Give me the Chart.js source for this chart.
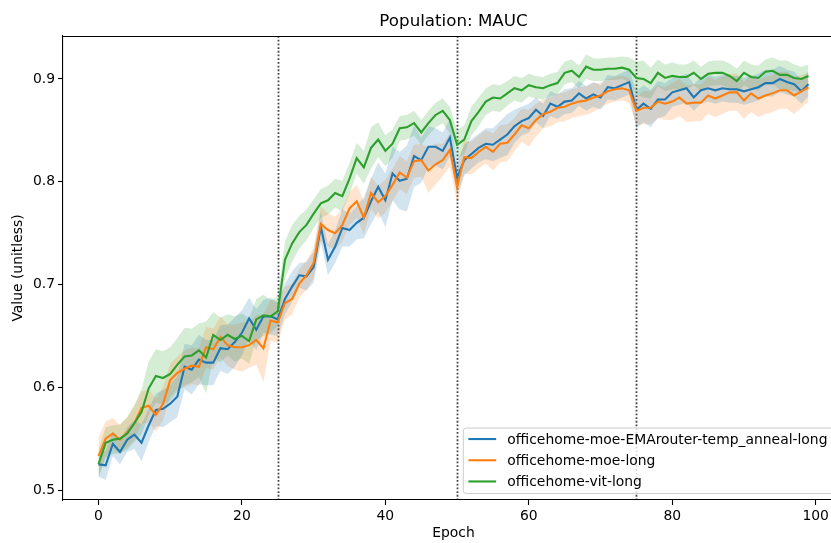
<!DOCTYPE html>
<html>
<head>
<meta charset="utf-8">
<title>Population: MAUC</title>
<script src="https://cdn.jsdelivr.net/npm/chart.js@4.4.1/dist/chart.umd.min.js"></script>
<style>
  html, body { margin: 0; padding: 0; background: #fff; overflow: hidden; }
  #wrap { width: 860px; height: 543px; }
</style>
</head>
<body>
<div id="wrap"><canvas id="mauc" width="860" height="543"></canvas></div>
<script>
// mean MAUC per epoch for each run
var blueMean = [
  0.525, 0.524, 0.545, 0.537, 0.549, 0.554, 0.546, 0.563, 0.578, 0.579,
  0.584, 0.591, 0.620, 0.617, 0.627, 0.624, 0.624, 0.638, 0.637, 0.644,
  0.653, 0.667, 0.656, 0.669, 0.669, 0.666, 0.686, 0.698, 0.709, 0.708,
  0.717, 0.756, 0.724, 0.737, 0.755, 0.753, 0.760, 0.765, 0.781, 0.795,
  0.782, 0.808, 0.801, 0.803, 0.825, 0.821, 0.834, 0.834, 0.830, 0.843,
  0.804, 0.821, 0.827, 0.833, 0.837, 0.836, 0.841, 0.846, 0.854, 0.859,
  0.862, 0.870, 0.864, 0.876, 0.873, 0.878, 0.879, 0.886, 0.881, 0.885,
  0.882, 0.892, 0.891, 0.894, 0.897, 0.870, 0.876, 0.871, 0.880, 0.880,
  0.887, 0.889, 0.891, 0.882, 0.889, 0.891, 0.889, 0.891, 0.890, 0.890,
  0.888, 0.890, 0.892, 0.896, 0.896, 0.900, 0.897, 0.895, 0.888, 0.895
];
var orangeMean = [
  0.533, 0.550, 0.555, 0.549, 0.556, 0.565, 0.580, 0.582, 0.573, 0.584,
  0.607, 0.614, 0.618, 0.621, 0.620, 0.639, 0.637, 0.649, 0.641, 0.639,
  0.639, 0.641, 0.646, 0.638, 0.665, 0.663, 0.682, 0.686, 0.701, 0.709,
  0.721, 0.759, 0.753, 0.750, 0.758, 0.774, 0.781, 0.765, 0.789, 0.780,
  0.786, 0.797, 0.809, 0.804, 0.820, 0.821, 0.811, 0.817, 0.821, 0.831,
  0.795, 0.824, 0.823, 0.829, 0.834, 0.829, 0.837, 0.838, 0.846, 0.855,
  0.852, 0.860, 0.866, 0.868, 0.872, 0.873, 0.876, 0.878, 0.879, 0.882,
  0.884, 0.888, 0.890, 0.891, 0.889, 0.869, 0.872, 0.872, 0.878, 0.876,
  0.878, 0.882, 0.876, 0.877, 0.877, 0.884, 0.881, 0.884, 0.887, 0.887,
  0.879, 0.886, 0.881, 0.884, 0.886, 0.889, 0.889, 0.884, 0.888, 0.892
];
var greenMean = [
  0.525, 0.546, 0.549, 0.550, 0.555, 0.565, 0.576, 0.599, 0.611, 0.609,
  0.613, 0.622, 0.630, 0.631, 0.636, 0.629, 0.651, 0.646, 0.651, 0.647,
  0.650, 0.645, 0.666, 0.670, 0.669, 0.674, 0.724, 0.740, 0.751, 0.758,
  0.769, 0.779, 0.782, 0.789, 0.786, 0.803, 0.823, 0.814, 0.833, 0.841,
  0.830, 0.837, 0.852, 0.853, 0.857, 0.848, 0.857, 0.865, 0.869, 0.860,
  0.836, 0.841, 0.859, 0.868, 0.878, 0.882, 0.881, 0.886, 0.891, 0.889,
  0.894, 0.892, 0.891, 0.894, 0.896, 0.906, 0.908, 0.902, 0.912, 0.909,
  0.909, 0.910, 0.910, 0.911, 0.909, 0.901, 0.900, 0.896, 0.906, 0.901,
  0.903, 0.902, 0.902, 0.906, 0.900, 0.905, 0.906, 0.906, 0.903, 0.898,
  0.906, 0.902, 0.901, 0.907, 0.908, 0.904, 0.904, 0.901, 0.900, 0.903
];

// half-width of the shaded band around each mean
var blueSpread = [
  0.012, 0.014, 0.012, 0.012, 0.012, 0.014, 0.018, 0.016, 0.016, 0.018,
  0.018, 0.020, 0.022, 0.024, 0.024, 0.022, 0.022, 0.022, 0.024, 0.024,
  0.022, 0.020, 0.020, 0.016, 0.018, 0.016, 0.015, 0.015, 0.012, 0.014,
  0.015, 0.015, 0.015, 0.016, 0.018, 0.016, 0.016, 0.020, 0.022, 0.024,
  0.026, 0.026, 0.028, 0.032, 0.030, 0.022, 0.020, 0.018, 0.018, 0.018,
  0.016, 0.015, 0.014, 0.014, 0.015, 0.016, 0.018, 0.020, 0.016, 0.014,
  0.014, 0.012, 0.012, 0.012, 0.012, 0.012, 0.012, 0.012, 0.012, 0.012,
  0.012, 0.012, 0.012, 0.012, 0.012, 0.018, 0.018, 0.018, 0.018, 0.016,
  0.014, 0.014, 0.014, 0.013, 0.013, 0.013, 0.013, 0.013, 0.013, 0.013,
  0.013, 0.013, 0.013, 0.013, 0.013, 0.013, 0.012, 0.012, 0.012, 0.012
];
var orangeSpread = [
  0.018, 0.017, 0.015, 0.014, 0.014, 0.016, 0.016, 0.016, 0.016, 0.016,
  0.016, 0.016, 0.018, 0.018, 0.018, 0.020, 0.020, 0.020, 0.020, 0.022,
  0.024, 0.022, 0.024, 0.033, 0.020, 0.020, 0.016, 0.015, 0.014, 0.014,
  0.015, 0.017, 0.016, 0.016, 0.016, 0.016, 0.016, 0.016, 0.016, 0.016,
  0.016, 0.016, 0.016, 0.016, 0.016, 0.016, 0.022, 0.020, 0.016, 0.016,
  0.016, 0.016, 0.016, 0.016, 0.016, 0.018, 0.018, 0.018, 0.016, 0.016,
  0.018, 0.016, 0.014, 0.014, 0.014, 0.014, 0.014, 0.014, 0.014, 0.014,
  0.012, 0.012, 0.012, 0.012, 0.012, 0.014, 0.016, 0.016, 0.016, 0.016,
  0.018, 0.018, 0.018, 0.018, 0.018, 0.018, 0.018, 0.018, 0.018, 0.018,
  0.018, 0.018, 0.018, 0.018, 0.018, 0.018, 0.018, 0.018, 0.016, 0.014
];
var greenSpread = [
  0.014, 0.015, 0.014, 0.014, 0.016, 0.018, 0.022, 0.026, 0.026, 0.026,
  0.026, 0.026, 0.028, 0.026, 0.026, 0.035, 0.022, 0.022, 0.020, 0.022,
  0.022, 0.022, 0.020, 0.020, 0.016, 0.014, 0.018, 0.018, 0.016, 0.015,
  0.014, 0.014, 0.014, 0.014, 0.015, 0.015, 0.015, 0.016, 0.020, 0.017,
  0.015, 0.014, 0.012, 0.012, 0.012, 0.012, 0.012, 0.012, 0.012, 0.013,
  0.014, 0.014, 0.014, 0.014, 0.013, 0.013, 0.013, 0.012, 0.012, 0.012,
  0.011, 0.011, 0.011, 0.011, 0.011, 0.011, 0.011, 0.011, 0.012, 0.011,
  0.011, 0.011, 0.011, 0.011, 0.012, 0.016, 0.018, 0.015, 0.013, 0.013,
  0.013, 0.012, 0.012, 0.012, 0.012, 0.012, 0.012, 0.012, 0.012, 0.012,
  0.012, 0.012, 0.012, 0.012, 0.013, 0.014, 0.014, 0.013, 0.012, 0.011
];

var epochs = blueMean.map(function (v, i) { return i; });
var phaseEnds = [25, 50, 75];
var xTicks = [0, 20, 40, 60, 80, 100];
var xTickLabels = ['0', '20', '40', '60', '80', '100'];
var yTicks = [0.5, 0.6, 0.7, 0.8, 0.9];
var yTickLabels = ['0.5', '0.6', '0.7', '0.8', '0.9'];

var series = [
  { label: 'officehome-moe-EMArouter-temp_anneal-long', mean: blueMean, spread: blueSpread,
    color: '#1f77b4', band: 'rgba(31,119,180,0.2)' },
  { label: 'officehome-moe-long', mean: orangeMean, spread: orangeSpread,
    color: '#ff7f0e', band: 'rgba(255,127,14,0.2)' },
  { label: 'officehome-vit-long', mean: greenMean, spread: greenSpread,
    color: '#2ca02c', band: 'rgba(44,160,44,0.2)' }
];

var FONT = "'DejaVu Sans', 'Liberation Sans', sans-serif";
Chart.defaults.font.family = FONT;
Chart.defaults.color = '#000';

function points(values) {
  return values.map(function (v, i) { return { x: epochs[i], y: v }; });
}
function shifted(values, spread, sign) {
  return values.map(function (v, i) { return { x: epochs[i], y: v + sign * spread[i] }; });
}

var datasets = [];
series.forEach(function (s) {
  datasets.push({ data: shifted(s.mean, s.spread, -1), borderWidth: 0, borderColor: 'transparent',
    pointRadius: 0, fill: false, order: 10 });
  datasets.push({ data: shifted(s.mean, s.spread, 1), borderWidth: 0, borderColor: 'transparent',
    pointRadius: 0, fill: '-1', backgroundColor: s.band, order: 10 });
});
series.forEach(function (s, k) {
  datasets.push({ label: s.label, data: points(s.mean), borderColor: s.color, borderWidth: 2.1,
    pointRadius: 0, fill: false, tension: 0, order: 3 - k });
});

// dotted markers at the phase boundaries
var phaseLines = {
  id: 'phaseLines',
  beforeDatasetsDraw: function (chart) {
    var ctx = chart.ctx, area = chart.chartArea, xs = chart.scales.x;
    ctx.save();
    ctx.strokeStyle = 'rgba(0,0,0,0.72)';
    ctx.lineWidth = 1.8;
    ctx.setLineDash([1.8, 1.9]);
    phaseEnds.forEach(function (e) {
      var px = Math.round(xs.getPixelForValue(e)) + 0.5;
      ctx.beginPath();
      ctx.moveTo(px, area.top);
      ctx.lineTo(px, area.bottom);
      ctx.stroke();
    });
    ctx.restore();
  }
};

// top spine and the legend box in the lower right corner
var frameAndLegend = {
  id: 'frameAndLegend',
  afterDraw: function (chart) {
    var ctx = chart.ctx, area = chart.chartArea;
    ctx.save();
    ctx.strokeStyle = '#000';
    ctx.lineWidth = 1.1;
    ctx.beginPath();
    ctx.moveTo(area.left, area.top + 0.5);
    ctx.lineTo(area.right, area.top + 0.5);
    ctx.stroke();

    var fs = 13.9;
    ctx.font = fs + 'px ' + FONT;
    var textW = 0;
    series.forEach(function (s) { textW = Math.max(textW, ctx.measureText(s.label).width); });
    var pad = 0.4 * fs, handle = 2 * fs, gap = 0.8 * fs;
    var w = pad + handle + gap + textW + pad + 4;
    var h = 65.5;
    var right = area.right - 0.5 * fs;
    var bottom = area.bottom - 0.5 * fs;
    var left = right - w, top = bottom - h;

    ctx.beginPath();
    ctx.roundRect(left + 0.5, top + 0.5, w, h, 3);
    ctx.fillStyle = 'rgba(255,255,255,0.8)';
    ctx.fill();
    ctx.strokeStyle = '#cccccc';
    ctx.lineWidth = 1;
    ctx.stroke();

    ctx.textBaseline = 'middle';
    ctx.textAlign = 'left';
    series.forEach(function (s, i) {
      var cy = top + 11.5 + i * 21.2;
      ctx.strokeStyle = s.color;
      ctx.lineWidth = 2.1;
      ctx.beginPath();
      ctx.moveTo(left + pad, cy);
      ctx.lineTo(left + pad + handle, cy);
      ctx.stroke();
      ctx.fillStyle = '#000';
      ctx.fillText(s.label, left + pad + handle + gap, cy + 1);
    });
    ctx.restore();
  }
};

new Chart(document.getElementById('mauc'), {
  type: 'line',
  data: { datasets: datasets },
  plugins: [phaseLines, frameAndLegend],
  options: {
    responsive: false,
    animation: false,
    devicePixelRatio: 1,
    layout: { padding: { left: 0, right: 16, top: 0, bottom: 0 } },
    plugins: {
      legend: { display: false },
      tooltip: { enabled: false },
      title: {
        display: true,
        text: 'Population: MAUC',
        fullSize: false,
        color: '#000',
        font: { size: 16.7, weight: 'normal', family: FONT },
        padding: { top: 12, bottom: 4 }
      }
    },
    scales: {
      x: {
        type: 'linear',
        min: -4.95,
        max: 103.95,
        afterBuildTicks: function (scale) {
          scale.ticks = xTicks.map(function (v) { return { value: v }; });
        },
        afterFit: function (scale) { scale.height = 43; },
        grid: { drawOnChartArea: false, tickLength: 5, tickColor: '#000', tickWidth: 1.1 },
        border: { color: '#000', width: 1.1 },
        ticks: {
          padding: 3,
          maxRotation: 0,
          font: { size: 13.9, family: FONT },
          callback: function (value, index) { return xTickLabels[index]; }
        },
        title: { display: true, text: 'Epoch', font: { size: 13.9, family: FONT }, padding: { top: 0, bottom: 1 } }
      },
      y: {
        type: 'linear',
        min: 0.4903,
        max: 0.9418,
        afterBuildTicks: function (scale) {
          scale.ticks = yTicks.map(function (v) { return { value: v }; });
        },
        afterFit: function (scale) { scale.width = 63; },
        grid: { drawOnChartArea: false, tickLength: 5, tickColor: '#000', tickWidth: 1.1 },
        border: { color: '#000', width: 1.1 },
        ticks: {
          padding: 3,
          font: { size: 13.9, family: FONT },
          callback: function (value, index) { return yTickLabels[index]; }
        },
        title: { display: true, text: 'Value (unitless)', font: { size: 13.9, family: FONT }, padding: { top: 10, bottom: 0 } }
      }
    }
  }
});
</script>
</body>
</html>
